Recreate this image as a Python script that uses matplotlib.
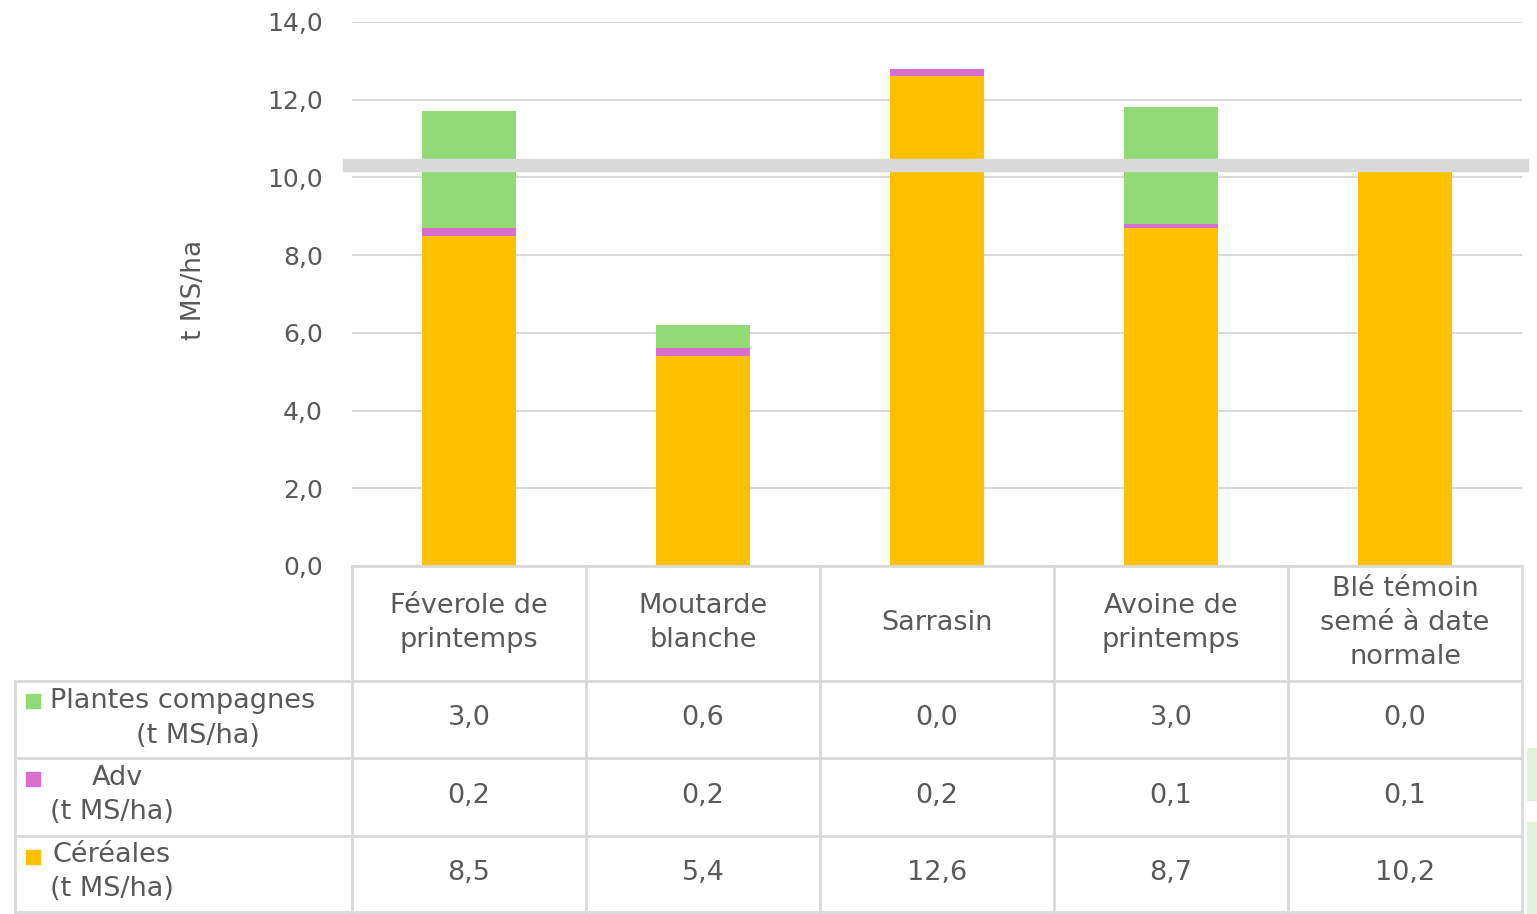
import matplotlib
matplotlib.use("Agg")
import matplotlib.pyplot as plt
from matplotlib.patches import Rectangle
from matplotlib.lines import Line2D
import matplotlib.transforms as mtrans
import numpy as np

categories = ["Féverole de\nprintemps", "Moutarde\nblanche", "Sarrasin",
              "Avoine de\nprintemps", "Blé témoin\nsemé à date\nnormale"]
cereales = [8.5, 5.4, 12.6, 8.7, 10.2]
adv = [0.2, 0.2, 0.2, 0.1, 0.1]
compagnes = [3.0, 0.6, 0.0, 3.0, 0.0]
series_names = ["Plantes compagnes", "Adv", "Céréales"]
yticks = [0, 2, 4, 6, 8, 10, 12, 14]

C_CER = "#FFC000"
C_ADV = "#D86FCC"
C_COMP = "#92DA76"
GRID = "#D9D9D9"
TXT = "#595959"

plt.rcParams['font.family'] = ['DejaVu Sans']
W, H = 1537, 914
fig = plt.figure(figsize=(W / 100, H / 100), dpi=100)

def fx(px): return px / W
def fy(py): return 1 - py / H

ax = fig.add_axes([fx(352), fy(566), fx(1522) - fx(352), fy(22) - fy(566)])
x = np.arange(len(categories))
bw = 0.4
ax.bar(x, cereales, bw, color=C_CER, zorder=3)
ax.bar(x, adv, bw, bottom=cereales, color=C_ADV, zorder=3)
bot2 = np.array(cereales) + np.array(adv)
ax.bar(x, compagnes, bw, bottom=bot2, color=C_COMP, zorder=3)

ax.set_xlim(-0.5, len(categories) - 0.5)
ax.set_ylim(0, 14)
ax.set_yticks(yticks)
ax.set_yticklabels([f"{v:.1f}".replace(".", ",") for v in yticks], fontsize=18, color=TXT)
ax.tick_params(axis='y', length=0, pad=21)
ax.set_xticks([])
ax.grid(axis='y', color=GRID, lw=1.5, zorder=0)
for s in ax.spines.values():
    s.set_visible(False)
ax.set_ylabel("t MS/ha", fontsize=19, color=TXT, labelpad=0)
ax.yaxis.set_label_coords((207 - 352) / 1170, 0.507)

# grey break band
fig.patches.append(Rectangle((fx(343), fy(171)), fx(1528) - fx(343), fy(159) - fy(171),
                             transform=fig.transFigure, color="#D9D9D9", zorder=10))

# table
bt = mtrans.blended_transform_factory(ax.transData, fig.transFigure)
def hline(x0, x1, y):
    fig.add_artist(Line2D([fx(x0), fx(x1)], [fy(y), fy(y)], color=GRID, lw=2, transform=fig.transFigure))
def vline(xp, y0, y1):
    fig.add_artist(Line2D([fx(xp), fx(xp)], [fy(y0), fy(y1)], color=GRID, lw=2, transform=fig.transFigure))

hline(352, 1522, 566)
for y in [681, 758, 836, 912]:
    hline(15, 1522, y)
for xp in [352, 586, 820, 1054, 1288, 1522]:
    vline(xp, 566, 912)
vline(15, 681, 912)

fs = 19.5
for i, c in enumerate(categories):
    fig.text(x[i], fy(623), c, transform=bt, ha='center', va='center', fontsize=fs,
             color=TXT, linespacing=1.38)

rows = [compagnes, adv, cereales]
row_y = [718, 796, 873]
for r, vals in enumerate(rows):
    for i, v in enumerate(vals):
        fig.text(x[i], fy(row_y[r]), f"{v:.1f}".replace(".", ","), transform=bt,
                 ha='center', va='center', fontsize=fs, color=TXT)

colors = [C_COMP, C_ADV, C_CER]
sq_y = [701, 779, 857]
for c, yy in zip(colors, sq_y):
    fig.patches.append(Rectangle((fx(26), fy(yy + 7)), fx(14), fy(yy - 7) - fy(yy + 7),
                                 transform=fig.transFigure, color=c))
fig.text(fx(50), fy(701), "Plantes compagnes", ha='left', va='center', fontsize=fs, color=TXT)
fig.text(fx(198), fy(736), "(t MS/ha)", ha='center', va='center', fontsize=fs, color=TXT)
fig.text(fx(117), fy(778), "Adv", ha='center', va='center', fontsize=fs, color=TXT)
fig.text(fx(50), fy(812), "(t MS/ha)", ha='left', va='center', fontsize=fs, color=TXT)
fig.text(fx(52), fy(855), "Céréales", ha='left', va='center', fontsize=fs, color=TXT)
fig.text(fx(50), fy(889), "(t MS/ha)", ha='left', va='center', fontsize=fs, color=TXT)

# decorative shapes on right edge
fig.patches.append(Rectangle((fx(1527), fy(800)), fx(10), fy(748) - fy(800),
                             transform=fig.transFigure, color="#E2EFD9"))
fig.patches.append(Rectangle((fx(1527), fy(914)), fx(10), fy(822) - fy(914),
                             transform=fig.transFigure, color="#E2EFD9"))

fig.savefig("out.png", dpi=100)
